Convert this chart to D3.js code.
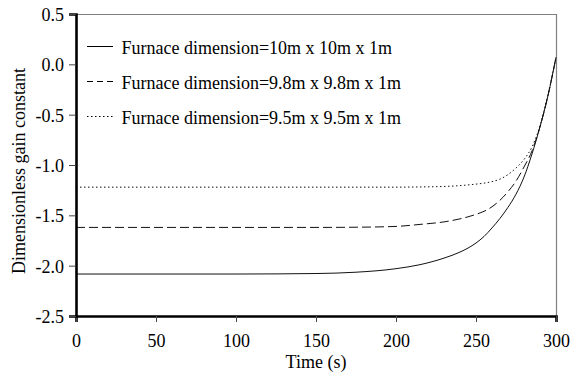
<!DOCTYPE html>
<html>
<head>
<meta charset="utf-8">
<script src="https://cdn.jsdelivr.net/npm/d3@7"></script>
<style>
  html, body { margin: 0; padding: 0; background: #fff; }
  svg { display: block; }
  svg text { font-family: "Liberation Serif", "Times New Roman", serif !important; fill: #000; }
</style>
</head>
<body>
<svg id="chart" width="581" height="376"></svg>
<script>
// ---- data ----
const time   = [0, 50, 100, 150, 175, 200, 215, 230, 240, 245, 250, 255, 260, 265, 270, 275, 280, 285, 290, 295, 300];
const gain10 = [-2.083, -2.083, -2.083, -2.078, -2.065, -2.03, -1.99, -1.925, -1.865, -1.825, -1.775, -1.71, -1.625, -1.53, -1.42, -1.29, -1.12, -0.89, -0.62, -0.31, 0.07];
const gain98 = [-1.62, -1.62, -1.62, -1.62, -1.618, -1.61, -1.59, -1.565, -1.535, -1.515, -1.49, -1.46, -1.415, -1.35, -1.265, -1.16, -1.02, -0.86, -0.62, -0.31, 0.07];
const gain95 = [-1.22, -1.22, -1.22, -1.22, -1.22, -1.22, -1.218, -1.213, -1.205, -1.198, -1.19, -1.18, -1.165, -1.14, -1.095, -1.03, -0.945, -0.82, -0.61, -0.30, 0.07];
const seriesNames = ["Furnace dimension=10m x 10m x 1m", "Furnace dimension=9.8m x 9.8m x 1m", "Furnace dimension=9.5m x 9.5m x 1m"];
const xTicks = [0, 50, 100, 150, 200, 250, 300];
const yTicks = [-2.5, -2.0, -1.5, -1.0, -0.5, 0.0, 0.5];
const xTitle = "Time (s)";
const yTitle = "Dimensionless gain constant";

// ---- layout ----
const svg = d3.select("#chart");
const m = { left: 76, right: 556, top: 14, bottom: 316 };
const x = d3.scaleLinear().domain([0, 300]).range([m.left, m.right]);
const y = d3.scaleLinear().domain([-2.5, 0.5]).range([m.bottom, m.top]);
const fs = 18;
const serif = "Liberation Serif";

// frame (top & right, grey)
svg.append("line").attr("x1", m.left).attr("x2", m.right + 1).attr("y1", m.top + 0.5).attr("y2", m.top + 0.5)
  .attr("stroke", "#808080").attr("stroke-width", 1);
svg.append("line").attr("x1", m.right + 0.5).attr("x2", m.right + 0.5).attr("y1", m.top).attr("y2", m.bottom)
  .attr("stroke", "#808080").attr("stroke-width", 1.2);

// lines
const styles = [
  { data: gain10, dash: null, sampleDash: null },
  { data: gain98, dash: "9,4", sampleDash: "6,4" },
  { data: gain95, dash: "1.5,2.5", sampleDash: "1.5,2.5" }
];
const line = d3.line().x(d => x(d[0])).y(d => y(d[1])).curve(d3.curveMonotoneX);
styles.forEach(s => {
  svg.append("path")
    .datum(time.map((t, i) => [t, s.data[i]]))
    .attr("d", line)
    .attr("fill", "none")
    .attr("stroke", "#111")
    .attr("stroke-width", 1)
    .attr("stroke-dasharray", s.dash);
});

// axes
const xAxis = d3.axisBottom(x).tickValues(xTicks).tickFormat(d3.format("d")).tickSize(6).tickPadding(8);
const yAxis = d3.axisLeft(y).tickValues(yTicks).tickFormat(d => d3.format(".1f")(d).replace("\u2212", "-")).tickSize(7).tickPadding(5);

const gx = svg.append("g").attr("transform", `translate(0,${m.bottom})`).call(xAxis);
const gy = svg.append("g").attr("transform", `translate(${m.left},0)`).call(yAxis);
[gx, gy].forEach(g => {
  g.attr("font-family", serif).attr("font-size", fs);
  g.select(".domain").attr("stroke", "#000").attr("stroke-width", 2.6);
  g.selectAll(".tick line").attr("stroke", "#444").attr("stroke-width", 1);
  g.selectAll(".tick text").style("font-family", serif).style("font-size", fs + "px").attr("fill", "#000");
});
gx.selectAll(".tick text").attr("y", 30.5).attr("dy", 0);
gy.selectAll(".tick text").attr("dy", "0.36em");

// axis titles
svg.append("text").attr("x", (m.left + m.right) / 2).attr("y", 368)
  .attr("text-anchor", "middle").style("font-size", fs + "px").text(xTitle);
svg.append("text").attr("transform", "translate(24.5,171) rotate(-90)")
  .attr("text-anchor", "middle").style("font-size", fs + "px").text(yTitle);

// legend
const legY = [46, 81, 116];
styles.forEach((s, i) => {
  svg.append("line").attr("x1", 87).attr("x2", 113).attr("y1", legY[i] + 0.5).attr("y2", legY[i] + 0.5)
    .attr("stroke", "#000").attr("stroke-width", 1).attr("stroke-dasharray", s.sampleDash);
  svg.append("text").attr("x", 121.5).attr("y", legY[i] + 8).style("font-size", fs + "px").text(seriesNames[i]);
});
</script>
</body>
</html>
